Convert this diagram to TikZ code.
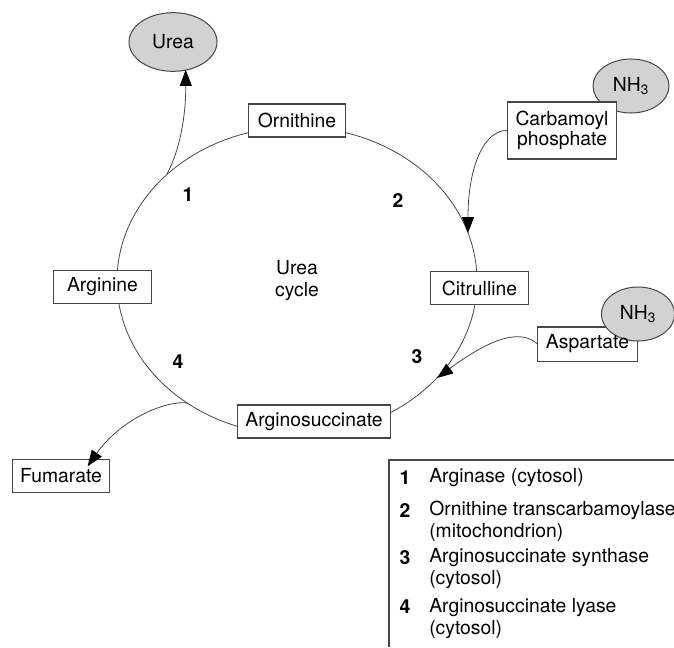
\documentclass[tikz,border=0pt]{standalone}
\usepackage{fontspec}
\setmainfont{TeX Gyre Heros}
\usetikzlibrary{arrows.meta,shapes.geometric,backgrounds}
\definecolor{lin}{RGB}{70,70,70}
\definecolor{gasgray}{RGB}{210,210,210}
\tikzset{
  compound/.style={draw=lin,line width=0.85pt,fill=white,inner xsep=6pt,inner ysep=2pt,
    minimum width=73pt,minimum height=24.75pt,align=center,
    font=\fontsize{14.5}{12.8}\selectfont},
  gas/.style={ellipse,draw=lin,line width=0.75pt,fill=gasgray,inner sep=0pt,
    font=\fontsize{14.5}{16}\selectfont},
  stepnum/.style={font=\fontsize{14.5}{16}\selectfont\bfseries,inner sep=0pt},
  legtext/.style={anchor=west,align=left,inner sep=0pt,font=\fontsize{14.5}{16.5}\selectfont},
  flow/.style={draw=lin,line width=0.6pt,-{Triangle[length=12pt,width=9pt,color=black]}},
}

\begin{document}
\begin{tikzpicture}[x=0.75pt,y=0.75pt,yscale=-1,xscale=1]
	\useasboundingbox (0,0) rectangle (674,647);

	% the cycle
	\draw [draw=lin,line width=0.6pt] (297,281) ellipse [x radius=180, y radius=154];
	\node (cyclename) at (297,281) [align=center,inner sep=0pt,font=\fontsize{14.5}{16.5}\selectfont] {Urea\\cycle};

	\node (urea) at (173,42) [gas,minimum width=66pt,minimum height=44pt] {Urea};
	\node (nh3a) at (631,86) [gas,minimum width=57pt,minimum height=40.5pt] {NH\textsubscript{3}};

	\node (orn) at (297,120.5) [compound] {Ornithine};
	\node (carb) at (562,130.5) [compound,minimum height=42.75pt] {Carbamoyl\\phosphate};
	\node (citr) at (479.5,288) [compound] {Citrulline};
	\node (argn) at (102.5,287) [compound] {Arginine};
	\node (argsuc) at (314,421.5) [compound] {Arginosuccinate};
	\node (fum) at (61,476) [compound] {Fumarate};
	\node (asp) at (587.5,344) [compound,draw=none,fill=none] {Aspartate};
	\begin{scope}[on background layer]
		\draw [draw=lin,line width=0.85pt,fill=white] (asp.south west) rectangle (asp.north east);
		\node (nh3b) at (638,314) [gas,minimum width=55pt,minimum height=40.5pt] {};
	\end{scope}
	\node at (nh3b) [font=\fontsize{14.5}{16}\selectfont,inner sep=0pt] {NH\textsubscript{3}};

	% step numbers
	\node (s1) at (188,195) [stepnum] {1};
	\node (s2) at (398,200) [stepnum] {2};
	\node (s3) at (417,357) [stepnum] {3};
	\node (s4) at (178,362) [stepnum] {4};

	% points on the cycle
	\coordinate (ureaout) at (167,174);
	\coordinate (carbin) at (468,233);
	\coordinate (aspin) at (437,378);
	\coordinate (fumout) at (188,403);

	\draw [flow] (ureaout) .. controls (180,150) and (186,115) .. ([xshift=9.5pt,yshift=-1.5pt]urea.south);
	\draw [flow] (carb.west) .. controls (485,130) and (468,165) .. (carbin);
	\draw [flow] (asp.west) .. controls (522,330) and (495,335) .. (aspin);
	\draw [flow] (fumout) .. controls (165,400) and (120,420) .. ([xshift=20pt,yshift=5.5pt]fum.north);

	% legend
	\draw [draw=lin,line width=0.85pt] (674,460) -- (389,460) -- (389,647);
	\node (n1) at (405,478) [stepnum] {1};
	\node (t1) at (429,478) [legtext] {Arginase (cytosol)};
	\node (n2) at (405,510) [stepnum] {2};
	\node (t2) at (429,521) [legtext] {Ornithine transcarbamoylase\\(mitochondrion)};
	\node (n3) at (405,558) [stepnum] {3};
	\node (t3) at (429,569) [legtext] {Arginosuccinate synthase\\(cytosol)};
	\node (n4) at (405,607) [stepnum] {4};
	\node (t4) at (429,618.5) [legtext] {Arginosuccinate lyase\\(cytosol)};
\end{tikzpicture}
\end{document}
